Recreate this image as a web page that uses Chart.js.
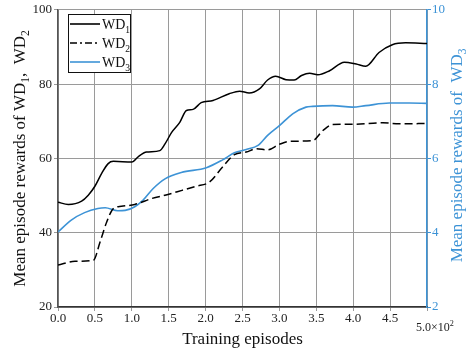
<!DOCTYPE html>
<html>
<head>
<meta charset="utf-8">
<script src="https://cdn.jsdelivr.net/npm/chart.js@4.4.0/dist/chart.umd.min.js"></script>
<style>
  html, body { margin: 0; padding: 0; background: #fff; }
  #wrap { width: 472px; height: 349px; }
</style>
</head>
<body>
<div id="wrap"><canvas id="rewardChart"></canvas></div>
<script>
// training episodes (x 10^2) and mean rewards
const wd1Ep = [0, 0.14, 0.32, 0.41, 0.5, 0.59, 0.68, 0.75, 1.0, 1.09, 1.2, 1.38, 1.45, 1.54, 1.65, 1.74, 1.83, 1.94, 2.1, 2.32, 2.46, 2.59, 2.73, 2.84, 2.95, 3.09, 3.2, 3.3, 3.41, 3.52, 3.68, 3.88, 4.04, 4.17, 4.35, 4.53, 4.71, 5.0];
const wd1 = [48.2, 47.6, 48.5, 50.1, 52.5, 55.9, 58.6, 59.2, 59.0, 60.5, 61.7, 62.1, 63.9, 67.0, 69.7, 72.9, 73.2, 75.0, 75.6, 77.4, 78.1, 77.6, 78.7, 81.1, 82.1, 81.2, 81.1, 82.3, 82.9, 82.5, 83.6, 85.9, 85.4, 84.8, 88.5, 90.6, 91.1, 90.9];

const wd2Ep = [0, 0.23, 0.48, 0.57, 0.66, 0.75, 0.86, 1.04, 1.27, 1.49, 1.68, 1.87, 2.05, 2.23, 2.39, 2.55, 2.69, 2.84, 3.0, 3.14, 3.45, 3.59, 3.72, 3.99, 4.4, 4.62, 5.0];
const wd2 = [31.3, 32.3, 32.6, 37.5, 42.9, 46.5, 47.1, 47.6, 49.2, 50.3, 51.4, 52.5, 53.6, 57.7, 61.0, 61.7, 62.6, 62.3, 63.8, 64.6, 64.8, 67.5, 69.1, 69.2, 69.6, 69.3, 69.4];

const wd3Ep = [0, 0.18, 0.36, 0.54, 0.64, 0.81, 0.91, 1.04, 1.15, 1.29, 1.45, 1.67, 2.01, 2.23, 2.39, 2.55, 2.71, 2.84, 3.0, 3.18, 3.36, 3.45, 3.72, 3.99, 4.17, 4.49, 4.76, 5.0];
const wd3 = [4.02, 4.34, 4.54, 4.65, 4.67, 4.59, 4.60, 4.70, 4.87, 5.19, 5.45, 5.62, 5.75, 5.96, 6.15, 6.24, 6.35, 6.62, 6.88, 7.20, 7.38, 7.40, 7.42, 7.38, 7.42, 7.49, 7.49, 7.48];

const leftTicks = [20, 40, 60, 80, 100];
const rightTicks = [2, 4, 6, 8, 10];

const BLUE = '#3d93d6';
const SERIF = '"Liberation Serif", "DejaVu Serif", serif';

function pts(xs, ys) {
  return xs.map((x, i) => ({ x: x, y: ys[i] }));
}

// draws a run of text pieces, some of them sub- or superscript
function richText(ctx, parts, x, y, size, align) {
  ctx.save();
  let total = 0;
  parts.forEach(p => {
    ctx.font = (p.sub || p.sup ? size * 0.68 : size) + 'px ' + SERIF;
    total += ctx.measureText(p.t).width;
  });
  let cx = align === 'center' ? x - total / 2 : x;
  ctx.textAlign = 'left';
  ctx.textBaseline = 'alphabetic';
  parts.forEach(p => {
    ctx.font = (p.sub || p.sup ? size * 0.68 : size) + 'px ' + SERIF;
    let dy = p.sub ? size * 0.25 : (p.sup ? -size * 0.4 : 0);
    ctx.fillText(p.t, cx, y + dy);
    cx += ctx.measureText(p.t).width;
  });
  ctx.restore();
}

const decorations = {
  id: 'decorations',
  afterDraw(chart) {
    const ctx = chart.ctx;
    const area = chart.chartArea;
    const x = chart.scales.x;

    // legend box
    const bx = 68, by = 14, bw = 62, bh = 58;
    ctx.save();
    ctx.fillStyle = '#fff';
    ctx.fillRect(bx, by, bw, bh);
    ctx.strokeStyle = '#111';
    ctx.lineWidth = 1;
    ctx.strokeRect(bx + 0.5, by + 0.5, bw, bh);
    const rows = [
      { y: 24, color: '#000', dash: [], label: '1' },
      { y: 43, color: '#000', dash: [7, 3, 2, 3], label: '2' },
      { y: 62, color: BLUE, dash: [], label: '3' }
    ];
    rows.forEach(r => {
      ctx.beginPath();
      ctx.setLineDash(r.dash);
      ctx.strokeStyle = r.color;
      ctx.lineWidth = 1.6;
      ctx.moveTo(bx + 2, r.y);
      ctx.lineTo(bx + 32, r.y);
      ctx.stroke();
      ctx.setLineDash([]);
      ctx.fillStyle = '#111';
      richText(ctx, [{ t: 'WD' }, { t: r.label, sub: true }], bx + 34, r.y + 5, 14, 'left');
    });
    ctx.restore();

    // last x tick label with exponent
    ctx.save();
    ctx.fillStyle = '#222';
    richText(ctx, [{ t: '5.0×10' }, { t: '2', sup: true }], x.getPixelForValue(5) + 8, area.bottom + 24, 12, 'center');
    ctx.restore();

    // axis titles
    ctx.save();
    ctx.fillStyle = '#111';
    richText(ctx, [{ t: 'Training episodes' }], (area.left + area.right) / 2, 344, 17, 'center');
    ctx.translate(25, (area.top + area.bottom) / 2);
    ctx.rotate(-Math.PI / 2);
    richText(ctx, [{ t: 'Mean episode rewards of WD' }, { t: '1', sub: true }, { t: ',  WD' }, { t: '2', sub: true }], 0, 0, 17, 'center');
    ctx.restore();

    ctx.save();
    ctx.fillStyle = BLUE;
    ctx.translate(462, (area.top + area.bottom) / 2 - 3);
    ctx.rotate(-Math.PI / 2);
    richText(ctx, [{ t: 'Mean episode rewards of  WD' }, { t: '3', sub: true }], 0, 0, 17, 'center');
    ctx.restore();
  }
};

new Chart(document.getElementById('rewardChart'), {
  type: 'line',
  data: {
    datasets: [
      {
        label: 'WD1', data: pts(wd1Ep, wd1), yAxisID: 'y',
        borderColor: '#000', borderWidth: 1.5, pointRadius: 0,
        tension: 0.25, cubicInterpolationMode: 'monotone'
      },
      {
        label: 'WD2', data: pts(wd2Ep, wd2), yAxisID: 'y',
        borderColor: '#000', borderWidth: 1.5, borderDash: [8, 4], pointRadius: 0,
        tension: 0.25, cubicInterpolationMode: 'monotone'
      },
      {
        label: 'WD3', data: pts(wd3Ep, wd3), yAxisID: 'y2',
        borderColor: BLUE, borderWidth: 1.6, pointRadius: 0,
        tension: 0.4, cubicInterpolationMode: 'monotone'
      }
    ]
  },
  options: {
    responsive: true,
    maintainAspectRatio: false,
    animation: false,
    layout: { padding: { top: 9, left: 0, right: 0, bottom: 0 } },
    plugins: { legend: { display: false }, tooltip: { enabled: false } },
    scales: {
      x: {
        type: 'linear', min: 0, max: 5,
        afterFit(s) { s.height = 42; },
        afterBuildTicks(s) { s.ticks = [0, 0.5, 1, 1.5, 2, 2.5, 3, 3.5, 4, 4.5, 5].map(v => ({ value: v })); },
        border: { color: '#333', width: 1.5 },
        grid: { color: '#9a9a9a', lineWidth: 1, tickLength: 4 },
        ticks: {
          color: '#222', padding: 0, maxRotation: 0, autoSkip: false,
          font: { family: SERIF, size: 13 },
          callback: v => v === 5 ? '' : v.toFixed(1)
        }
      },
      y: {
        position: 'left', min: 20, max: 100,
        afterFit(s) { s.width = 58; },
        afterBuildTicks(s) { s.ticks = leftTicks.map(v => ({ value: v })); },
        border: { color: '#555', width: 1.5 },
        grid: { color: '#9a9a9a', lineWidth: 1, tickLength: 4 },
        ticks: { color: '#222', padding: 2, font: { family: SERIF, size: 13 } }
      },
      y2: {
        position: 'right', min: 2, max: 10,
        afterFit(s) { s.width = 45; },
        afterBuildTicks(s) { s.ticks = rightTicks.map(v => ({ value: v })); },
        border: { color: BLUE, width: 1.5 },
        grid: { drawOnChartArea: false, color: BLUE, tickLength: 4 },
        ticks: { color: BLUE, padding: 1, font: { family: SERIF, size: 13 } }
      }
    }
  },
  plugins: [decorations]
});
</script>
</body>
</html>
